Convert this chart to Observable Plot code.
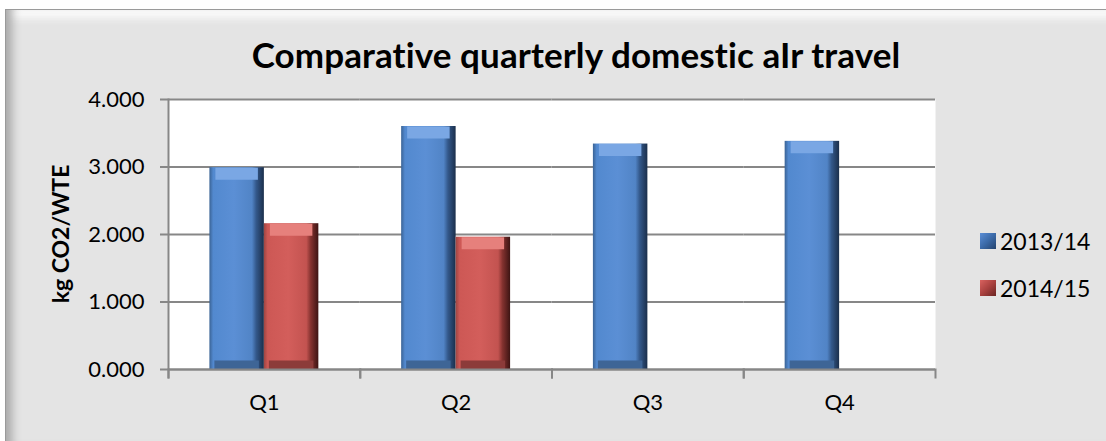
<!DOCTYPE html>
<html>
<head>
<meta charset="utf-8">
<script src="https://cdn.jsdelivr.net/npm/d3@7"></script>
<script src="https://cdn.jsdelivr.net/npm/@observablehq/plot@0.6"></script>
<style>
  html, body { margin: 0; padding: 0; background: #ffffff; }
  #wrap { position: relative; width: 1106px; height: 441px; overflow: hidden; font-family: Lato, "Open Sans", sans-serif; }
  #panel {
    position: absolute; left: 5px; top: 9px; width: 1110px; height: 440px;
    background: #e4e4e4;
    border-top: 1px solid #9a9a9a; border-left: 1px solid #9a9a9a;
    box-shadow: inset 12px 0 10px -6px #a9a9a9, inset 0 14px 8px -6px #fbfbfb, inset 0 -8px 6px -4px #c4c4c4;
  }
  #chart { position: absolute; left: 0; top: 0; }
  #title { position: absolute; left: 0; width: 1152px; top: 33px; text-align: center; font-weight: bold; font-size: 35px; color: #000; white-space: nowrap; letter-spacing: 0.1px; }
  #ylabel { position: absolute; left: 60px; top: 234px; transform: translate(-50%, -50%) rotate(-90deg); font-weight: bold; font-size: 23px; white-space: nowrap; color: #000; }
  #legend { position: absolute; left: 980px; top: 227px; font-size: 23px; color: #000; }
  .item { display: flex; align-items: center; height: 28px; margin-bottom: 19px; }
  .sw { width: 16px; height: 16px; margin-right: 4px; }
</style>
</head>
<body>
<div id="wrap">
  <div id="panel"></div>
  <div id="chart"></div>
  <div id="title"></div>
  <div id="ylabel"></div>
  <div id="legend"></div>
</div>
<script>
const title = "Comparative quarterly domestic aIr travel";
const yLabel = "kg CO2/WTE";
const quarters = ["Q1", "Q2", "Q3", "Q4"];
const series = ["2013/14", "2014/15"];
const values2013 = [2.99, 3.60, 3.34, 3.38];
const values2014 = [2.16, 1.96, null, null];
const yTicks = [0, 1, 2, 3, 4];

const seriesColors = {
  "2013/14": {grad: "url(#gBlue)", top: "#7aa7e4", bottom: "#3e6596"},
  "2014/15": {grad: "url(#gRed)", top: "#e6807c", bottom: "#8c3b39"}
};

const data = [];
quarters.forEach((q, i) => {
  if (values2013[i] != null) data.push({quarter: q, series: series[0], value: values2013[i]});
  if (values2014[i] != null) data.push({quarter: q, series: series[1], value: values2014[i]});
});

document.getElementById("title").textContent = title;
document.getElementById("ylabel").textContent = yLabel;
const legend = document.getElementById("legend");
series.forEach(s => {
  const it = document.createElement("div");
  it.className = "item";
  const sw = document.createElement("div");
  sw.className = "sw";
  sw.style.background = s === series[0]
    ? "linear-gradient(135deg,#5b8ed6 0%,#3b6aa8 50%,#24436e 100%)"
    : "linear-gradient(135deg,#d9625f 0%,#a9413f 50%,#6a2523 100%)";
  const tx = document.createElement("span");
  tx.textContent = s;
  it.appendChild(sw); it.appendChild(tx);
  legend.appendChild(it);
});

const tickLen = 8;
const plot = Plot.plot({
  width: 1106,
  height: 441,
  marginLeft: 168,
  marginRight: 171,
  marginTop: 99,
  marginBottom: 72,
  style: {background: "transparent", fontFamily: "Lato, 'Open Sans', sans-serif", color: "#000"},
  fx: {domain: quarters, padding: 0, label: null, round: false},
  x: {domain: series, paddingInner: 0, paddingOuter: 0.76, axis: null, round: false},
  y: {domain: [0, 4], label: null},
  marks: [
    Plot.frame({fill: "white", stroke: null, facet: "super"}),
    Plot.gridY(yTicks, {stroke: "#878787", strokeOpacity: 1, strokeWidth: 2}),
    Plot.barY(data, {fx: "quarter", x: "series", y: "value", fill: d => seriesColors[d.series].grad}),
    Plot.tickY(data, {fx: "quarter", x: "series", y: "value", stroke: d => seriesColors[d.series].top, strokeWidth: 12, dy: 6, inset: 6}),
    Plot.tickY(data, {fx: "quarter", x: "series", y: () => 0, stroke: d => seriesColors[d.series].bottom, strokeWidth: 9, dy: -4.5, inset: 5}),
    Plot.frame({anchor: "left", facet: "super", stroke: "#878787", strokeWidth: 2, insetBottom: -tickLen}),
    Plot.frame({anchor: "left", stroke: "#878787", strokeWidth: 2, insetTop: 270, insetBottom: -tickLen}),
    Plot.frame({anchor: "right", stroke: "#878787", strokeWidth: 2, insetTop: 270, insetBottom: -tickLen}),
    Plot.ruleY([0], {stroke: "#878787", strokeWidth: 2}),
    Plot.axisY({ticks: yTicks, tickFormat: d => d.toFixed(3), tickSize: 8, tickPadding: 16, fontSize: 22, stroke: "#878787", strokeWidth: 2, label: null}),
    Plot.axisFx({anchor: "bottom", tickSize: 0, tickPadding: 25, fontSize: 22, label: null})
  ]
});

const defs = d3.create("svg:defs");
const mk = (id, stops) => {
  const g = defs.append("linearGradient").attr("id", id).attr("x1", 0).attr("x2", 1).attr("y1", 0).attr("y2", 0);
  stops.forEach(([o, c]) => g.append("stop").attr("offset", o).attr("stop-color", c));
};
mk("gBlue", [[0, "#3a6395"], [0.07, "#5289cf"], [0.45, "#5b8fd5"], [0.78, "#5184c6"], [0.86, "#33588a"], [1, "#1b2f4b"]]);
mk("gRed", [[0, "#9e4542"], [0.07, "#cd5855"], [0.45, "#d35e5b"], [0.78, "#c35350"], [0.86, "#84322f"], [1, "#3d1413"]]);
plot.insertBefore(defs.node(), plot.firstChild);

document.getElementById("chart").appendChild(plot);
</script>
</body>
</html>
